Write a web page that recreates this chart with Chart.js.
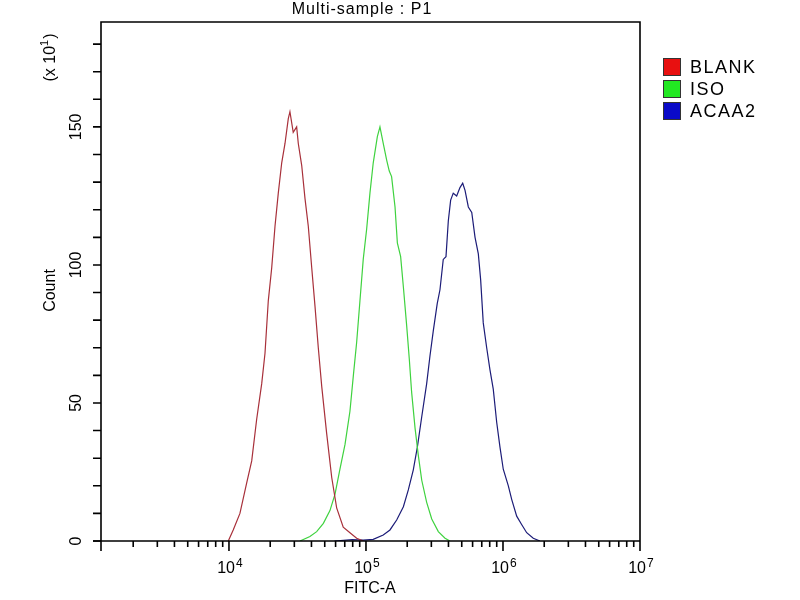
<!DOCTYPE html>
<html>
<head>
<meta charset="utf-8">
<script src="https://cdn.jsdelivr.net/npm/chart.js@4"></script>
<style>
  html, body { margin: 0; padding: 0; background: #fff; }
  #wrap { width: 800px; height: 600px; }
</style>
</head>
<body>
<div id="wrap"><canvas id="histChart" width="800" height="600"></canvas></div>
<script>
// x positions are log10(FITC-A), y are counts (x10^1)
const blankLog = [3.995, 4.031, 4.080, 4.129, 4.166, 4.202, 4.239, 4.263, 4.287, 4.312, 4.336, 4.360, 4.385, 4.409, 4.433, 4.445, 4.469, 4.494, 4.506, 4.531, 4.555, 4.579, 4.604, 4.628, 4.652, 4.677, 4.713, 4.750, 4.786, 4.834, 4.883, 4.932, 4.980];
const blankCount = [0, 4, 10, 21, 29, 44, 57, 68, 87, 99, 114, 126, 137, 144, 153, 155.5, 148, 150, 144, 136, 124, 114, 99, 85, 70, 56, 39, 23, 12, 5, 3, 1, 0];

const isoLog = [4.518, 4.591, 4.640, 4.689, 4.737, 4.774, 4.810, 4.847, 4.883, 4.908, 4.932, 4.956, 4.980, 5.005, 5.029, 5.053, 5.083, 5.102, 5.126, 5.151, 5.170, 5.187, 5.212, 5.229, 5.253, 5.273, 5.297, 5.316, 5.333, 5.358, 5.382, 5.407, 5.443, 5.480, 5.528, 5.577, 5.613];
const isoCount = [0, 1.6, 3.4, 6.4, 11, 17, 26, 35, 47, 60, 72, 87, 102, 113, 126, 137, 146.5, 150, 144, 138, 134, 132, 121, 108, 103, 92, 78, 66, 54, 41, 31, 22, 14, 8, 3.4, 1, 0];

const acaaLog = [4.770, 4.900, 4.980, 5.053, 5.126, 5.175, 5.224, 5.273, 5.309, 5.345, 5.375, 5.407, 5.443, 5.467, 5.491, 5.520, 5.540, 5.564, 5.584, 5.601, 5.618, 5.637, 5.662, 5.686, 5.706, 5.723, 5.747, 5.772, 5.796, 5.820, 5.837, 5.856, 5.881, 5.905, 5.929, 5.954, 5.978, 6.002, 6.039, 6.064, 6.100, 6.136, 6.173, 6.221, 6.270];
const acaaCount = [0, 0.5, 0.3, 0.6, 2.2, 4, 7.6, 12.4, 18.5, 25.7, 34, 45, 57, 67, 76, 86, 91, 102, 103, 116, 123.5, 126, 125, 128, 129.6, 127, 121, 119, 110, 104, 94.6, 79, 70, 62, 55, 43, 34, 26, 20, 15, 9, 6, 3, 1, 0];

const seriesNames = ['BLANK', 'ISO', 'ACAA2'];
const lineColors = ['#a8303a', '#3fd23f', '#1c1c78'];
const boxColors = ['#e81010', '#22e822', '#0a0ac8'];

const xMajorExp = [4, 5, 6, 7];
const yTickValues = [0, 10, 20, 30, 40, 50, 60, 70, 80, 90, 100, 110, 120, 130, 140, 150, 160, 170, 180];
const yLabelValues = [0, 50, 100, 150];

const xMin = Math.pow(10, 3.066);
const xMax = 1e7;
const yMax = 188;

function toPoints(logs, counts) {
  return logs.map((l, i) => ({ x: Math.pow(10, l), y: counts[i] }));
}

const FONT = '"Liberation Sans", Arial, sans-serif';

const axesPlugin = {
  id: 'facsAxes',
  afterDraw(chart) {
    const ctx = chart.ctx;
    const a = chart.chartArea;
    const xs = chart.scales.x;
    const ys = chart.scales.y;
    ctx.save();
    ctx.strokeStyle = '#000';
    ctx.fillStyle = '#000';
    ctx.lineWidth = 1.6;

    // frame
    ctx.beginPath();
    ctx.moveTo(a.left, a.bottom + 10);
    ctx.lineTo(a.left, a.top);
    ctx.lineTo(a.right, a.top);
    ctx.lineTo(a.right, a.bottom);
    ctx.moveTo(a.left - 8, a.bottom);
    ctx.lineTo(a.right, a.bottom);
    ctx.stroke();

    // x ticks
    ctx.beginPath();
    for (let e = 3; e <= 6; e++) {
      for (let m = 1; m <= 9; m++) {
        const v = m * Math.pow(10, e);
        if (v < xMin || v > xMax) continue;
        const px = xs.getPixelForValue(v);
        const len = m === 1 ? 10 : 6;
        ctx.moveTo(px, a.bottom);
        ctx.lineTo(px, a.bottom + len);
      }
    }
    const p7 = xs.getPixelForValue(1e7);
    ctx.moveTo(p7, a.bottom);
    ctx.lineTo(p7, a.bottom + 10);
    ctx.stroke();

    // x tick labels
    ctx.textBaseline = 'alphabetic';
    xMajorExp.forEach(e => {
      const px = xs.getPixelForValue(Math.pow(10, e));
      ctx.font = '16px ' + FONT;
      const wb = ctx.measureText('10').width;
      const left = px - wb + 6;
      ctx.textAlign = 'left';
      ctx.fillText('10', left, a.bottom + 32);
      ctx.font = '12px ' + FONT;
      ctx.fillText(String(e), left + wb + 1, a.bottom + 26);
    });

    // y ticks
    ctx.beginPath();
    yTickValues.forEach(v => {
      const py = ys.getPixelForValue(v);
      ctx.moveTo(a.left - 8, py);
      ctx.lineTo(a.left, py);
    });
    ctx.stroke();

    // y labels (rotated)
    ctx.font = '16px ' + FONT;
    ctx.textAlign = 'center';
    ctx.textBaseline = 'middle';
    yLabelValues.forEach(v => {
      const py = ys.getPixelForValue(v);
      ctx.save();
      ctx.translate(a.left - 24, py);
      ctx.rotate(-Math.PI / 2);
      ctx.fillText(String(v), 0, 0);
      ctx.restore();
    });

    // axis titles
    ctx.save();
    ctx.translate(51, (a.top + a.bottom) / 2 + 9);
    ctx.rotate(-Math.PI / 2);
    ctx.fillText('Count', 0, 0);
    ctx.restore();

    ctx.save();
    ctx.translate(51, 58);
    ctx.rotate(-Math.PI / 2);
    ctx.textAlign = 'left';
    ctx.font = '16px ' + FONT;
    const t1 = '(x 10';
    const w1 = ctx.measureText(t1).width;
    ctx.font = '11px ' + FONT;
    const w2 = ctx.measureText('1').width;
    ctx.font = '16px ' + FONT;
    const w3 = ctx.measureText(')').width;
    let sx = -(w1 + w2 + w3) / 2;
    ctx.fillText(t1, sx, 0);
    ctx.font = '11px ' + FONT;
    ctx.fillText('1', sx + w1, -6);
    ctx.font = '16px ' + FONT;
    ctx.fillText(')', sx + w1 + w2 + 1, 0);
    ctx.restore();

    ctx.textAlign = 'center';
    ctx.textBaseline = 'middle';
    ctx.font = '16px ' + FONT;
    ctx.fillText('FITC-A', 370, 589);
    ctx.letterSpacing = '1px';
    ctx.fillText('Multi-sample : P1', 362, 10);

    // legend
    ctx.textAlign = 'left';
    ctx.font = '18px ' + FONT;
    ctx.letterSpacing = '1.5px';
    seriesNames.forEach((name, i) => {
      const top = 58 + i * 22;
      ctx.fillStyle = boxColors[i];
      ctx.fillRect(663, top, 18, 18);
      ctx.strokeStyle = '#333';
      ctx.lineWidth = 1;
      ctx.strokeRect(663.5, top + 0.5, 17, 17);
      ctx.fillStyle = '#000';
      ctx.fillText(name, 690, top + 10);
    });
    ctx.restore();
  }
};

const ctx = document.getElementById('histChart').getContext('2d');
const histChart = new Chart(ctx, {
  type: 'line',
  data: {
    datasets: [
      { label: seriesNames[0], data: toPoints(blankLog, blankCount), borderColor: lineColors[0] },
      { label: seriesNames[1], data: toPoints(isoLog, isoCount), borderColor: lineColors[1] },
      { label: seriesNames[2], data: toPoints(acaaLog, acaaCount), borderColor: lineColors[2] }
    ]
  },
  options: {
    responsive: false,
    animation: false,
    devicePixelRatio: 1,
    layout: { padding: { left: 101, right: 160, top: 22, bottom: 59 } },
    elements: {
      line: { borderWidth: 1.2, tension: 0, fill: false },
      point: { radius: 0 }
    },
    scales: {
      x: { type: 'logarithmic', min: xMin, max: xMax, display: false },
      y: { type: 'linear', min: 0, max: yMax, display: false }
    },
    plugins: {
      legend: { display: false },
      tooltip: { enabled: false }
    }
  },
  plugins: [axesPlugin]
});
</script>
</body>
</html>
